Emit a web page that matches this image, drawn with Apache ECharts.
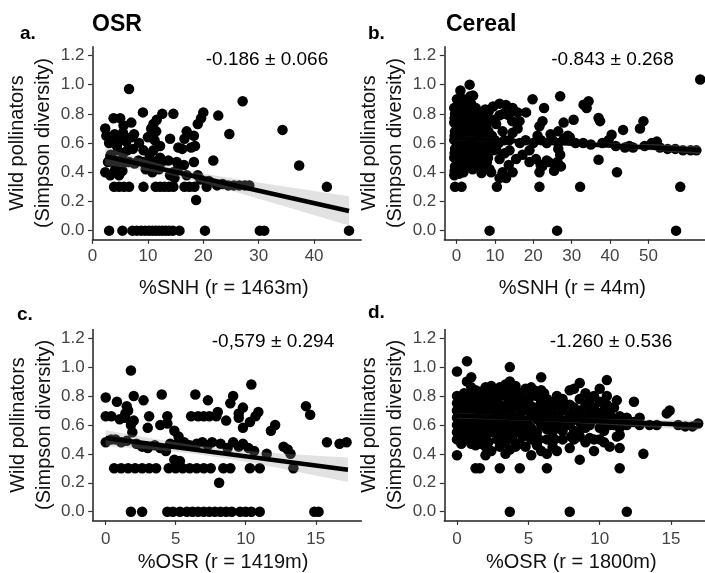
<!DOCTYPE html>
<html><head><meta charset="utf-8">
<script src="https://cdn.jsdelivr.net/npm/echarts@6/dist/echarts.min.js"></script>
<style>html,body{margin:0;padding:0;background:#fff}#c{width:705px;height:573px}</style>
</head><body><div id="c"></div>
<script>
// ---------- data ----------
const yTicks = [0, 0.2, 0.4, 0.6, 0.8, 1.0, 1.2];
const xTicksA = [0, 10, 20, 30, 40];
const xTicksB = [0, 10, 20, 30, 40, 50];
const xTicksC = [0, 5, 10, 15];
const xTicksD = [0, 5, 10, 15];
const panelLetters = ['a.', 'b.', 'c.', 'd.'];
const cropTitles = ['OSR', 'Cereal'];
const estimates = ['-0.186 \u00b1 0.066', '-0.843 \u00b1 0.268', '-0,579 \u00b1 0.294', '-1.260 \u00b1 0.536'];
const xTitles = ['%SNH (r = 1463m)', '%SNH (r = 44m)', '%OSR (r = 1419m)', '%OSR (r = 1800m)'];
const yTitle = 'Wild pollinators\n(Simpson diversity)';

// panel a: OSR vs %SNH
const ptsA = [
 [3.0,0],[5.4,0],[7.2,0],[8.0,0],[8.8,0],[9.5,0],[10.2,0],[10.8,0],[11.4,0],[12.0,0],[12.6,0],[13.2,0],[13.8,0],[14.5,0],[15.7,0],[20.3,0],[30.2,0],[31.0,0],[46.3,0],
 [18.7,0.21],
 [3.9,0.3],[4.8,0.3],[5.7,0.3],[6.6,0.3],[9.2,0.3],[11.4,0.3],[12.2,0.3],[13.0,0.3],[13.8,0.3],[14.6,0.3],[16.6,0.3],[17.5,0.3],[18.4,0.3],[20.6,0.3],[42.3,0.3],
 [19.5,0.35],[21.0,0.34],[22.5,0.31],[23.5,0.32],[24.5,0.31],[25.5,0.31],[26.5,0.31],[27.5,0.31],[28.3,0.31],
 [14.8,0.36],[2.3,0.4],[3.2,0.38],[4.1,0.42],[4.8,0.38],[5.4,0.41],[9.6,0.42],[10.8,0.4],[12.0,0.42],[14.0,0.38],[14.6,0.4],[15.5,0.43],[17.0,0.38],[19.0,0.38],
 [2.8,0.47],[3.5,0.5],[4.2,0.46],[5.0,0.48],[5.8,0.47],[6.6,0.47],[7.6,0.46],[8.3,0.48],[9.2,0.47],[10.0,0.46],[10.6,0.48],[12.5,0.47],[13.7,0.48],[15.2,0.47],[16.5,0.45],[18.3,0.47],[21.8,0.48],
 [3.3,0.52],[4.6,0.55],[5.6,0.53],[6.3,0.55],[9.2,0.55],[10.3,0.52],[11.0,0.55],[12.2,0.5],[16.2,0.56],[17.8,0.57],
 [2.5,0.65],[3.4,0.62],[4.0,0.66],[4.5,0.6],[5.0,0.64],[5.5,0.67],[6.1,0.61],[7.0,0.64],[7.5,0.66],[8.4,0.6],[10.0,0.64],[10.6,0.66],[11.2,0.62],[11.5,0.68],[12.2,0.58],[14.0,0.63],[15.5,0.57],[16.6,0.63],[18.5,0.58],
 [2.3,0.7],[3.8,0.77],[5.0,0.77],[5.6,0.72],[7.0,0.74],[9.1,0.81],[10.6,0.7],[11.0,0.73],[11.6,0.76],[12.6,0.8],[14.6,0.8],[17.0,0.68],[18.3,0.65],[19.0,0.73],[19.6,0.77],[20.0,0.81],
 [6.6,0.97],[27.1,0.886],[22.7,0.788],[24.7,0.662],[34.3,0.69],[37.3,0.446],[4.4,0.58],[3.0,0.6],[11.4,0.45],[7.3,0.56]
];
const lineAx = [2.3, 46.3], lineAy = [0.51, 0.135];
const bandAx = [2.3, 8, 14, 20, 26, 32, 38, 46.3];
const bandAlo = [0.45, 0.421, 0.382, 0.327, 0.263, 0.197, 0.129, 0.035];
const bandAhi = [0.57, 0.501, 0.438, 0.391, 0.353, 0.317, 0.283, 0.235];

// panel b: Cereal vs %SNH
const ptsB = [
 [-0.6,0.38],[-0.4,0.44],[-0.6,0.5],[-0.4,0.56],[-0.6,0.62],[-0.4,0.68],[-0.6,0.74],[-0.4,0.8],[-0.6,0.84],
 [-0.4,0.3],[0.2,0.42],[0.3,0.48],[0.1,0.54],[0.3,0.6],[0.2,0.66],[0.1,0.72],[0.3,0.78],[0.2,0.86],[0.1,0.9],
 [1.3,0.3],[1.0,0.45],[1.1,0.51],[0.9,0.57],[1.0,0.63],[1.1,0.69],[0.9,0.75],[1.0,0.81],[1.1,0.88],[1.0,0.96],
 [1.8,0.4],[1.9,0.47],[1.7,0.53],[1.8,0.6],[1.9,0.66],[1.7,0.72],[1.8,0.78],[1.9,0.84],[1.8,0.9],
 [2.6,0.44],[2.5,0.5],[2.7,0.56],[2.6,0.62],[2.5,0.68],[2.7,0.74],[2.6,0.8],[2.5,0.86],
 [3.4,0.47],[3.3,0.54],[3.5,0.6],[3.4,0.66],[3.3,0.72],[3.5,0.78],[3.4,0.84],[3.6,0.92],[3.4,1.0],
 [4.2,0.42],[4.1,0.5],[4.3,0.57],[4.2,0.63],[4.1,0.69],[4.3,0.75],[4.2,0.82],[4.3,0.925],
 [5.0,0.45],[5.1,0.52],[4.9,0.59],[5.0,0.65],[5.1,0.71],[4.9,0.78],[5.0,0.84],
 [5.8,0.48],[5.7,0.55],[5.9,0.61],[5.8,0.68],[5.7,0.74],[5.9,0.8],
 [6.5,0.395],[6.6,0.5],[6.7,0.58],[6.6,0.64],[6.5,0.72],[6.7,0.8],
 [7.4,0.44],[7.3,0.55],[7.5,0.62],[7.4,0.7],[7.3,0.78],[7.5,0.83],
 [8.6,0.42],[8.2,0.5],[8.4,0.6],[8.3,0.68],[8.5,0.76],[8.4,0.82],[8.6,0],
 [-0.5,0.41],[-0.5,0.53],[-0.5,0.65],[-0.5,0.77],[0.6,0.39],[0.6,0.51],[0.6,0.63],[0.6,0.75],[0.6,0.84],
 [1.4,0.42],[1.4,0.54],[1.4,0.66],[1.4,0.78],[1.4,0.86],[2.2,0.45],[2.2,0.57],[2.2,0.69],[2.2,0.81],
 [3.0,0.49],[3.0,0.59],[3.0,0.7],[3.0,0.83],[3.8,0.5],[3.8,0.63],[3.8,0.75],[3.8,0.87],
 [4.6,0.47],[4.6,0.6],[4.6,0.72],[4.6,0.8],[5.4,0.5],[5.4,0.62],[5.4,0.77],[6.2,0.45],[6.2,0.6],[6.2,0.7],[6.2,0.76],
 [7.0,0.52],[7.0,0.67],[7.0,0.74],[7.9,0.47],[7.9,0.58],[7.9,0.73],[7.9,0.8],
 [9.5,0.85],[11.2,0.87],[12.9,0.86],[14.6,0.84],[15.9,0.81],[16.4,0.75],[15.9,0.7],[14.6,0.67],[13.8,0.62],[12.5,0.62],
 [10.3,0.73],[9.9,0.76],[11.2,0.79],[12.2,0.8],[13.6,0.79],[9.2,0.65],[10.0,0.62],[11.0,0.6],[12.0,0.68],[14.5,0.75],
 [9.5,0.55],[10.3,0.555],[11.2,0.49],[12.5,0.53],[13.8,0.55],[9.0,0.4],[10.5,0.3],[11.2,0.36],[12.0,0.4],[12.9,0.36],[14.6,0.4],[13.6,0.45],
 [15.5,0.49],[17.2,0.52],[19.0,0.55],[19.0,0.47],[20.7,0.49],[21.9,0.45],[21.6,0.4],[21.6,0.3],[18.1,0.81],[19.8,0.9],
 [21.6,0.715],[22.4,0.75],[22.8,0.84],[21.1,0.65],[24.0,0.47],[25.8,0.45],[25.4,0.41],[26.2,0],[27.0,0.92],
 [16.5,0.6],[18.0,0.62],[20.0,0.6],[22.0,0.62],[23.5,0.6],[25.0,0.62],[26.5,0.6],[28.0,0.63],[29.5,0.64],
 [33.1,0.863],[34.4,0.886],[33.9,0.84],[37.0,0.772],[37.4,0.75],[30.5,0.76],[27.9,0.74],[40.4,0.657],[43.4,0.69],[47.8,0.7],[48.7,0.75],
 [52.2,0.61],[50.9,0.6],[39.6,0.62],[43.9,0.57],[46.0,0.57],[37.0,0.486],[41.8,0.4],[32.2,0.3],[58.3,0.3],[57.2,0],[63.5,1.035],
 [55.0,0.56],[57.0,0.56],[59.0,0.55],[61.0,0.55],[62.5,0.55],[31.0,0.6],[33.0,0.6],[35.0,0.59],[38.0,0.6],[41.5,0.58],[45.0,0.58],[49.0,0.58],[53.0,0.57],
 [26.5,0.56],[27.0,0.52],[26.3,0.47],[27.2,0.44],[22.3,0.44],[23.5,0.48],[29.0,0.65],[24.5,0.66],[26.5,0.68]
];
const lineBx = [-0.5, 63.5], lineBy = [0.635, 0.553];
const bandBx = [-0.5, 30, 63.5];
const bandBlo = [0.62, 0.585, 0.525];
const bandBhi = [0.65, 0.609, 0.583];

// panel c: OSR vs %OSR
const ptsC = [
 [1.8,0],[2.6,0],[4.4,0],[4.8,0],[5.3,0],[5.8,0],[6.2,0],[6.6,0],[7.0,0],[7.4,0],[7.8,0],[8.2,0],[8.6,0],[9.0,0],[9.6,0],[10.0,0],[10.4,0],[11.0,0],[14.9,0],[15.2,0],
 [0.6,0.3],[1.1,0.3],[1.6,0.3],[2.1,0.3],[2.6,0.3],[3.1,0.3],[3.6,0.3],[4.5,0.3],[5.0,0.3],[5.5,0.3],[6.0,0.3],[6.5,0.3],[7.0,0.3],[7.5,0.3],[8.4,0.3],[8.9,0.3],[10.3,0.3],[11.0,0.3],[13.4,0.3],
 [8.1,0.2],[4.9,0.36],[5.3,0.35],[5.1,0.33],
 [0,0.48],[0.4,0.5],[0.7,0.5],[1.1,0.48],[1.5,0.49],[2.2,0.47],[2.6,0.45],[3.0,0.44],[3.5,0.46],[3.9,0.44],[4.3,0.42],[4.6,0.47],[5.1,0.47],[5.6,0.48],[6.0,0.46],[6.5,0.47],[6.9,0.48],[7.3,0.46],[7.6,0.48],[8.2,0.47],[8.7,0.44],[9.1,0.48],[9.5,0.45],[9.8,0.47],[10.2,0.44],[10.6,0.42],[11.5,0.4],[12.7,0.45],[13.0,0.43],[13.2,0.4],[15.8,0.48],[16.7,0.47],[17.2,0.48],
 [1.9,0.55],[3.0,0.58],[3.9,0.6],[4.4,0.61],[4.9,0.56],[5.2,0.52],[2.0,0.63],[1.8,0.6],[9.8,0.58],[10.3,0.62],[11.8,0.56],[12.1,0.6],
 [0,0.66],[0.4,0.66],[1.4,0.65],[3.1,0.66],[4.4,0.66],[6.1,0.66],[6.6,0.66],[7.0,0.66],[7.4,0.66],[7.9,0.66],[8.0,0.69],[8.6,0.63],[9.5,0.65],[9.5,0.68],[10.7,0.66],[10.9,0.69],[14.6,0.67],[1.0,0.64],
 [0,0.79],[0.8,0.76],[1.5,0.73],[1.6,0.7],[2.0,0.8],[2.7,0.77],[4.0,0.81],[6.4,0.81],[7.3,0.77],[8.9,0.75],[9.1,0.8],[9.8,0.72],[14.3,0.73],[1.4,0.68],[10.4,0.88],[1.8,0.976]
];
const lineCx = [0, 17.3], lineCy = [0.51, 0.29];
const bandCx = [0, 3, 6, 9, 12, 15, 17.3];
const bandClo = [0.455, 0.432, 0.404, 0.363, 0.31, 0.251, 0.205];
const bandChi = [0.565, 0.512, 0.464, 0.429, 0.406, 0.387, 0.375];

// panel d: Cereal vs %OSR
const ptsD = [
 [0,0.39],[0,0.5],[0,0.55],[0,0.6],[0,0.65],[0,0.7],[0,0.75],[0,0.8],[0,0.97],
 [0.3,0.47],[0.3,0.58],[0.3,0.63],[0.3,0.68],[0.3,0.72],[0.3,0.78],
 [0.7,1.04],[0.7,0.9],[0.7,0.55],[0.7,0.62],[0.7,0.7],[0.7,0.76],
 [1.0,0.93],[1.0,0.47],[1.0,0.52],[1.0,0.6],[1.0,0.66],[1.0,0.8],[1.0,0.86],
 [1.3,0.3],[1.3,0.46],[1.3,0.58],[1.3,0.72],[1.3,0.84],
 [1.6,0.3],[1.6,0.47],[1.6,0.55],[1.6,0.62],[1.6,0.68],[1.6,0.77],[1.6,0.83],
 [2.0,0.39],[2.0,0.45],[2.0,0.52],[2.0,0.6],[2.0,0.7],[2.0,0.78],[2.0,0.86],
 [2.4,0.42],[2.4,0.55],[2.4,0.63],[2.4,0.67],[2.4,0.73],[2.4,0.8],[2.4,0.87],
 [2.8,0.5],[2.8,0.56],[2.8,0.62],[2.8,0.7],[2.8,0.77],[2.8,0.83],
 [3.0,0.3],[3.0,0.45],[3.0,0.58],[3.0,0.66],[3.0,0.74],[3.0,0.86],
 [3.4,0.4],[3.4,0.48],[3.4,0.55],[3.4,0.62],[3.4,0.7],[3.4,0.8],[3.4,0.88],
 [3.7,1.0],[3.7,0],[3.7,0.43],[3.7,0.52],[3.7,0.6],[3.7,0.68],[3.7,0.76],[3.7,0.84],[3.7,0.9],
 [4.1,0.45],[4.1,0.55],[4.1,0.64],[4.1,0.72],[4.1,0.8],[4.1,0.87],
 [4.4,0.3],[4.4,0.47],[4.4,0.58],[4.4,0.66],[4.4,0.75],[4.4,0.82],
 [4.8,0.45],[4.8,0.54],[4.8,0.62],[4.8,0.7],[4.8,0.78],[4.8,0.85],
 [5.2,0.39],[5.2,0.5],[5.2,0.58],[5.2,0.66],[5.2,0.73],[5.2,0.8],[5.2,0.86],
 [5.6,0.46],[5.6,0.55],[5.6,0.64],[5.6,0.72],[5.6,0.8],
 [5.9,0.93],[5.9,0.42],[5.9,0.6],[5.9,0.68],[5.9,0.76],[5.9,0.84],
 [6.3,0.3],[6.3,0.4],[6.3,0.5],[6.3,0.57],[6.3,0.65],[6.3,0.72],[6.3,0.78],
 [6.7,0.45],[6.7,0.55],[6.7,0.62],[6.7,0.7],[6.7,0.76],
 [7.0,0.42],[7.0,0.58],[7.0,0.66],[7.0,0.74],[7.0,0.8],
 [7.4,0.5],[7.4,0.56],[7.4,0.63],[7.4,0.7],[7.4,0.78],
 [7.9,0],[7.9,0.44],[7.9,0.6],[7.9,0.67],[7.9,0.74],[7.9,0.84],
 [8.2,0.85],[8.2,0.5],[8.2,0.56],[8.2,0.64],[8.2,0.72],
 [8.6,0.89],[8.6,0.36],[8.6,0.52],[8.6,0.62],[8.6,0.7],[8.6,0.78],
 [9.0,0.48],[9.0,0.58],[9.0,0.66],[9.0,0.74],[9.0,0.82],
 [9.3,0.51],[9.3,0.6],[9.3,0.7],[9.3,0.77],
 [9.6,0.42],[9.6,0.5],[9.6,0.64],[9.6,0.72],[9.6,0.8],
 [10.0,0.5],[10.0,0.58],[10.0,0.68],[10.0,0.76],[10.0,0.85],
 [10.3,0.48],[10.3,0.56],[10.3,0.62],[10.3,0.7],
 [10.5,0.91],[10.5,0.64],[10.5,0.74],[10.5,0.8],
 [10.7,0.45],[10.7,0.6],[10.7,0.68],
 [11.0,0.72],[11.0,0.6],[11.0,0.64],
 [11.2,0.77],[11.2,0.52],[11.2,0.62],
 [11.4,0.3],[11.4,0.44],[11.4,0.53],[11.4,0.58],[11.4,0.66],
 [11.9,0],[11.9,0.65],[11.9,0.6],[12.4,0.76],[12.4,0.62],[12.8,0.65],[12.8,0.6],[13.06,0.4],[13.5,0.6],[14.0,0.6],
 [14.7,0.68],[14.9,0.7],[15.5,0.6],[16.0,0.59],[16.5,0.59],[16.9,0.61],
 [0.15,0.52],[0.15,0.62],[0.15,0.73],[0.5,0.5],[0.5,0.66],[0.5,0.82],[0.85,0.58],[0.85,0.72],[1.15,0.62],[1.15,0.76],
 [1.45,0.52],[1.45,0.65],[1.45,0.79],[1.8,0.58],[1.8,0.74],[1.8,0.81],[2.2,0.48],[2.2,0.64],[2.2,0.82],[2.6,0.6],[2.6,0.76],
 [3.2,0.52],[3.2,0.68],[3.2,0.82],[3.55,0.58],[3.55,0.74],[3.9,0.5],[3.9,0.66],[3.9,0.83],[4.25,0.6],[4.25,0.78],
 [4.6,0.52],[4.6,0.7],[5.0,0.6],[5.0,0.75],[5.4,0.54],[5.4,0.7],[5.4,0.84],[5.75,0.5],[5.75,0.66],[6.1,0.6],[6.1,0.82],
 [6.5,0.68],[6.85,0.5],[7.2,0.64],[7.6,0.6],[7.6,0.74],[8.0,0.52],[8.4,0.66],[8.8,0.58],[9.15,0.64],[9.8,0.68],[10.15,0.64]
];
const lineDx = [0, 17.1], lineDy = [0.665, 0.598];
const bandDx = [0, 6, 17.1];
const bandDlo = [0.645, 0.625, 0.565];
const bandDhi = [0.685, 0.649, 0.631];

// ---------- chart ----------
const FF = 'Liberation Sans, Arial, sans-serif';
const gridBase = {outerBoundsMode: 'none', containLabel: false};
const grids = [
  Object.assign({left: 92.5, top: 46.7, width: 268.7, height: 192.7}, gridBase),
  Object.assign({left: 444.3, top: 46.7, width: 268.2, height: 192.7}, gridBase),
  Object.assign({left: 92.7, top: 329.5, width: 268.7, height: 190.9}, gridBase),
  Object.assign({left: 444.3, top: 329.5, width: 268.0, height: 190.9}, gridBase)
];
const xRanges = [[0, 48.5], [-3.2, 66.7], [-0.93, 18.26], [-0.89, 17.89]];
const xTickSets = [xTicksA, xTicksB, xTicksC, xTicksD];
const namePad = [[0, 6, 0, 0], [0, 12, 0, 0], [0, 8, 0, 0], [0, 14, 0, 0]];
const nameGaps = [39, 39, 32, 32];
const labelMargins = [8, 8, 10, 10];

const axisLineStyle = {color: '#222', width: 1.5};
const xAxes = grids.map((g, i) => ({
  type: 'value', gridIndex: i, min: xRanges[i][0], max: xRanges[i][1],
  name: xTitles[i], nameLocation: 'middle', nameGap: nameGaps[i],
  nameTextStyle: {fontSize: 20, color: '#111', fontFamily: FF, padding: namePad[i]},
  axisLine: {show: true, onZero: false, lineStyle: axisLineStyle},
  axisTick: {show: true, length: 4.5, lineStyle: {color: '#333', width: 1.2}, customValues: xTickSets[i]},
  axisLabel: {customValues: xTickSets[i], margin: labelMargins[i], fontSize: 17, color: '#444', fontFamily: FF,
              formatter: v => String(v)},
  splitLine: {show: false}
}));
const yAxes = grids.map((g, i) => ({
  type: 'value', gridIndex: i, min: -0.06, max: 1.26,
  name: yTitle, nameLocation: 'middle', nameRotate: 90, nameGap: 33,
  nameTextStyle: {fontSize: 20, lineHeight: 26, color: '#111', fontFamily: FF},
  axisLine: {show: true, onZero: false, lineStyle: axisLineStyle},
  axisTick: {show: true, length: 4.5, lineStyle: {color: '#333', width: 1.2}, customValues: yTicks},
  axisLabel: {customValues: yTicks, margin: 8, fontSize: 17, color: '#444', fontFamily: FF,
              formatter: v => v.toFixed(1)},
  splitLine: {show: false}
}));

function bandSeries(i, xs, lo, hi) {
  return {
    type: 'custom', xAxisIndex: i, yAxisIndex: i, silent: true, z: 3,
    data: xs.map((x, k) => [x, lo[k], hi[k]]),
    encode: {x: 0, y: [1, 2]},
    renderItem: function (params, api) {
      if (params.dataIndex !== 0) return null;
      const pts = [];
      for (let k = 0; k < xs.length; k++) pts.push(api.coord([xs[k], hi[k]]));
      for (let k = xs.length - 1; k >= 0; k--) pts.push(api.coord([xs[k], lo[k]]));
      return {type: 'polygon', shape: {points: pts}, style: {fill: 'rgba(150,150,150,0.28)'}};
    }
  };
}
function scatterSeries(i, pts) {
  return {type: 'scatter', xAxisIndex: i, yAxisIndex: i, data: pts, symbol: 'circle', symbolSize: 10.5,
          itemStyle: {color: '#000', opacity: 1}, silent: true, z: 2, clip: false};
}
function lineSeries(i, xs, ys) {
  return {type: 'line', xAxisIndex: i, yAxisIndex: i, data: xs.map((x, k) => [x, ys[k]]),
          symbol: 'none', lineStyle: {color: '#000', width: 4.5}, silent: true, z: 4};
}

const series = [
  scatterSeries(0, ptsA), bandSeries(0, bandAx, bandAlo, bandAhi), lineSeries(0, lineAx, lineAy),
  scatterSeries(1, ptsB), bandSeries(1, bandBx, bandBlo, bandBhi), lineSeries(1, lineBx, lineBy),
  scatterSeries(2, ptsC), bandSeries(2, bandCx, bandClo, bandChi), lineSeries(2, lineCx, lineCy),
  scatterSeries(3, ptsD), bandSeries(3, bandDx, bandDlo, bandDhi), lineSeries(3, lineDx, lineDy)
];

function txt(t, x, y, size, bold, align) {
  return {type: 'text', x: x, y: y, z: 10, silent: true,
          style: {text: t, fontSize: size, fontWeight: bold ? 'bold' : 'normal', fontFamily: FF,
                  fill: '#000', align: align || 'left', verticalAlign: 'middle'}};
}
const graphic = [
  txt(panelLetters[0], 20, 34, 19, true), txt(cropTitles[0], 92, 25, 23, true),
  txt(panelLetters[1], 368, 34, 19, true), txt(cropTitles[1], 446, 25, 23, true),
  txt(panelLetters[2], 17, 315, 19, true), txt(panelLetters[3], 368, 313, 19, true),
  txt(estimates[0], 267, 60, 19, false, 'center'),
  txt(estimates[1], 612.5, 60, 19, false, 'center'),
  txt(estimates[2], 273, 341.7, 19, false, 'center'),
  txt(estimates[3], 611, 341.7, 19, false, 'center')
];

const chart = echarts.init(document.getElementById('c'), null, {renderer: 'canvas'});
chart.setOption({
  animation: false, backgroundColor: '#fff',
  grid: grids, xAxis: xAxes, yAxis: yAxes, series: series, graphic: graphic
});
</script>
</body></html>
